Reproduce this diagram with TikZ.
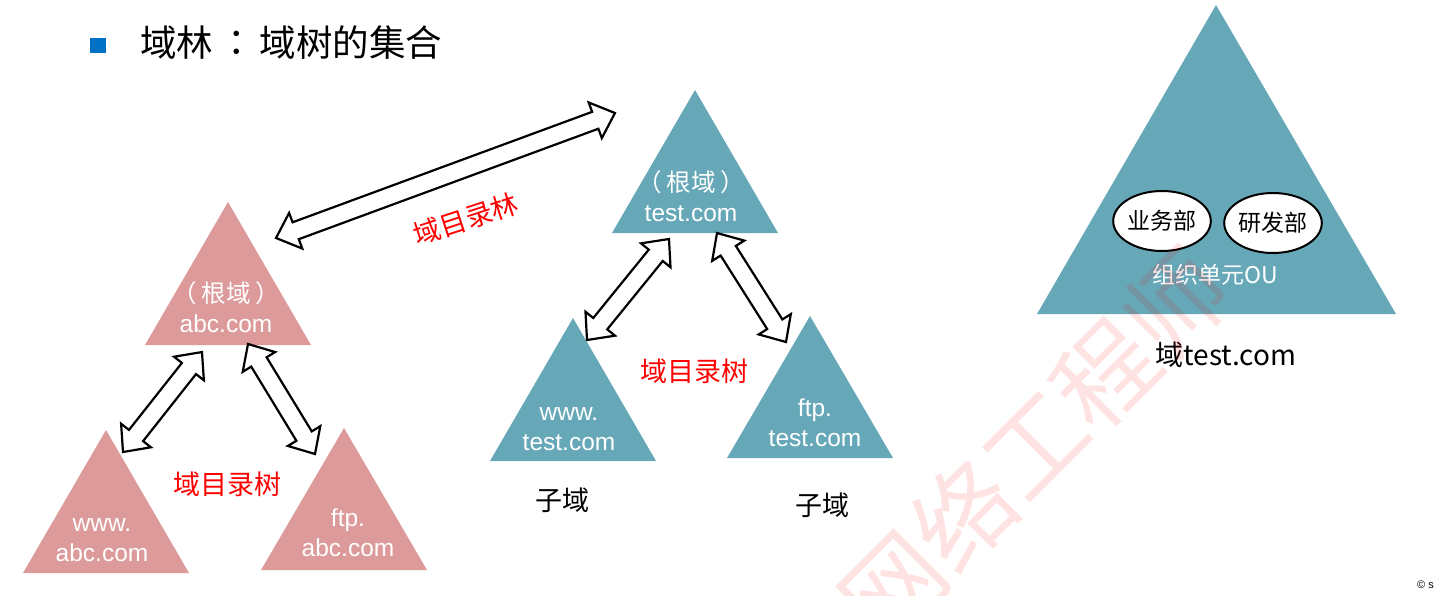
\documentclass[tikz,border=0pt]{standalone}
\usepackage{fontspec}
\setmainfont{Noto Sans CJK SC}
\newfontfamily\latinf{Liberation Sans}
\newfontfamily\cjk{Noto Sans CJK SC}
\newfontfamily\cjktc{Noto Sans CJK TC}
\usetikzlibrary{shapes.geometric}
\definecolor{rosetri}{RGB}{221,154,154}
\definecolor{tealtri}{RGB}{102,168,184}
\definecolor{bulletblue}{RGB}{0,114,198}
\definecolor{labelred}{RGB}{255,0,0}
\newcommand\bahl{21}
\newcommand\bahw{19}
\newcommand\basw{9}
\newcommand\blockarrow[2]{%
  \pgfpointdiff{\pgfpointanchor{#1}{center}}{\pgfpointanchor{#2}{center}}%
  \pgfgetlastxy{\bax}{\bay}%
  \pgfmathsetmacro\baang{atan2(\bay,\bax)}%
  \pgfmathsetmacro\balen{veclen(\bax,\bay)}%
  \begin{scope}[shift={(#1)},rotate=\baang]
    \draw[blockarr] (0,0) -- (\bahl,\bahw) -- (\bahl,\basw) -- (\balen-\bahl,\basw)
      -- (\balen-\bahl,\bahw) -- (\balen,0) -- (\balen-\bahl,-\bahw)
      -- (\balen-\bahl,-\basw) -- (\bahl,-\basw) -- (\bahl,-\bahw) -- cycle;
  \end{scope}}
\newcommand\rootline{{\cjktc（\hspace{5pt}}{\cjk 根域}{\cjktc\hspace{5pt}）}}
\begin{document}
\begin{tikzpicture}[x=1pt,y=-1pt,
  blockarr/.style={draw=black,fill=white,line width=2.2pt,line join=miter},
  tritext/.style={text=white,align=center,font=\latinf\fontsize{24.5}{30}\selectfont,inner sep=0pt},
  redlabel/.style={text=labelred,font=\fontsize{27}{30}\selectfont,inner sep=0pt},
  blacklabel/.style={text=black,font=\fontsize{27}{30}\selectfont,inner sep=0pt},
  ouell/.style={ellipse,draw=black,fill=white,line width=2pt,minimum width=89pt,minimum height=60pt,inner sep=0pt,font=\fontsize{23}{26}\selectfont},
  wm/.style={text=red,text opacity=0.11,font=\fontsize{100}{100}\selectfont,inner sep=0pt}]
\useasboundingbox (0,0) rectangle (1438,595);
\clip (0,0) rectangle (1438,595);

% title
\fill[bulletblue] (90,38) rectangle (106,53);
\node[anchor=west,inner sep=0pt,font=\fontsize{36.5}{40}\selectfont] (title) at (140,43) {域林\hspace{5pt}{\cjktc：}\hspace{5pt}域树的集合};

% abc.com tree
\fill[rosetri] (228,202) -- (311,345) -- (145,345) -- cycle;
\fill[rosetri] (106,430) -- (189,573) -- (23,573) -- cycle;
\fill[rosetri] (344,428) -- (427,570) -- (261,570) -- cycle;
\node[tritext] (abcroot) at (226,307) {\rootline\\abc.com};
\node[tritext] (abcwww) at (102,540) {www.\\abc.com};
\node[tritext] (abcftp) at (348,533) {ftp.\\abc.com};

% test.com tree
\fill[tealtri] (695,90) -- (778,233) -- (612,233) -- cycle;
\fill[tealtri] (573,318) -- (656,461) -- (490,461) -- cycle;
\fill[tealtri] (810,316) -- (893,458) -- (727,458) -- cycle;
\node[tritext] (testroot) at (691,196) {\rootline\\test.com};
\node[tritext] (testwww) at (569,429) {www.\\test.com};
\node[tritext] (testftp) at (815,423) {ftp.\\test.com};
\node[blacklabel] (sub1) at (562,500) {子域};
\node[blacklabel] (sub2) at (822,505) {子域};

% domain with OUs
\fill[tealtri] (1216,5) -- (1396,314) -- (1037,314) -- cycle;
\node[ouell] (ou1) at (1162,221) {业务部};
\node[ouell] (ou2) at (1273,223) {\raisebox{-4pt}{研发部}};
\node[text=white,font=\fontsize{23}{26}\selectfont,inner sep=0pt] (oulabel) at (1215,275) {组织单元OU};
\node[text=black,font=\fontsize{28}{30}\selectfont,inner sep=0pt] (domlabel) at (1226,355) {域test.com};

% arrow end points
\coordinate (fa) at (276,238);
\coordinate (fb) at (615,113);
\coordinate (la1) at (123,452);
\coordinate (lb1) at (202,352);
\coordinate (la2) at (248,344);
\coordinate (lb2) at (315,454);
\coordinate (ta1) at (587,340);
\coordinate (tb1) at (669,239);
\coordinate (ta2) at (717,233);
\coordinate (tb2) at (786,342);

\blockarrow{fa}{fb}
\blockarrow{la1}{lb1}
\blockarrow{la2}{lb2}
\blockarrow{ta1}{tb1}
\blockarrow{ta2}{tb2}

% red labels
\node[redlabel,rotate=18] (forestlbl) at (466,219) {域目录林};
\node[redlabel] (tree1lbl) at (227,484) {域目录树};
\node[redlabel] (tree2lbl) at (694,371) {域目录树};

% watermark and corner mark
\node[wm,rotate=45] (wmark) at (1034,444) {网络工程师};
\node[anchor=west,inner sep=0pt,font=\latinf\fontsize{11}{13}\selectfont] (copy) at (1417,585) {© s};
\end{tikzpicture}
\end{document}
